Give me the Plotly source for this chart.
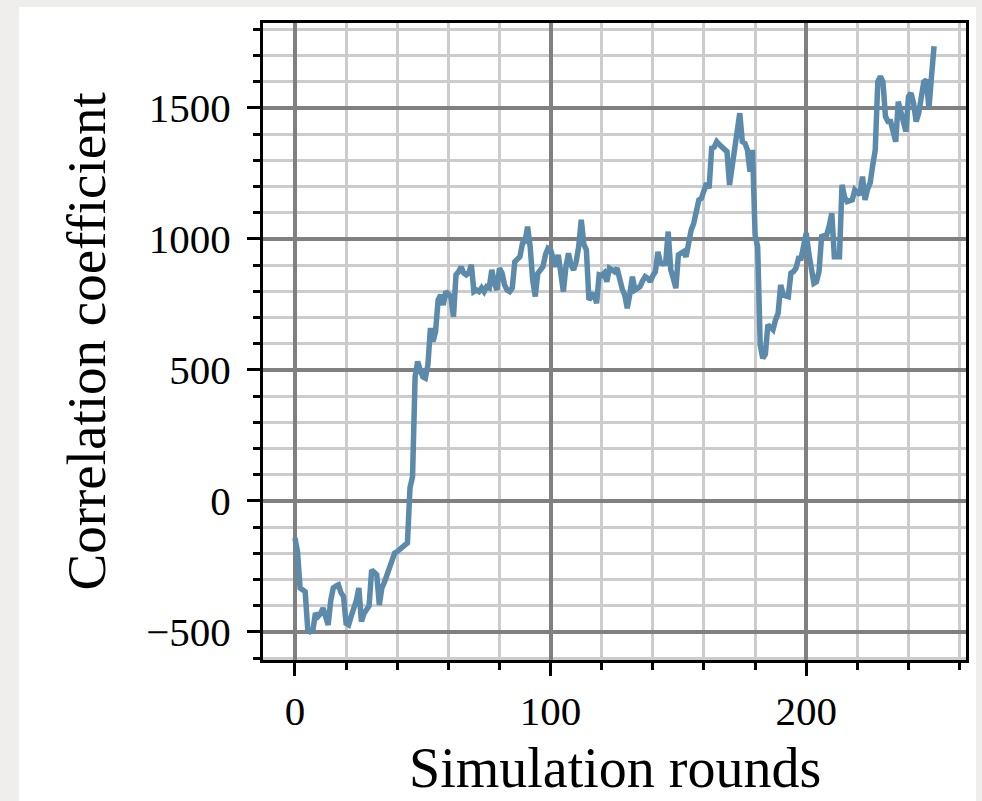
import plotly.graph_objects as go

rounds = list(range(251))
corr = [
    -141, -193, -332, -340, -346, -490, -499, -495, -428, -441,
    -430, -409, -440, -473, -380, -332, -325, -320, -350, -365,
    -467, -473, -440, -416, -380, -332, -460, -430, -409, -400,
    -263, -270, -282, -397, -332, -310, -285, -260, -230, -199,
    -193, -185, -174, -165, -160, 50, 93, 474, 532, 500,
    474, 469, 519, 660, 608, 646, 767, 786, 748, 799,
    786, 780, 703, 863, 875, 894, 870, 863, 870, 901,
    799, 805, 799, 813, 799, 818, 813, 882, 831, 805,
    888, 870, 824, 805, 799, 813, 913, 925, 932, 983,
    990, 1047, 971, 843, 780, 869, 880, 894, 940, 964,
    958, 920, 894, 939, 869, 799, 894, 945, 900, 882,
    913, 971, 1073, 980, 958, 767, 780, 793, 754, 863,
    860, 870, 837, 888, 882, 875, 888, 843, 810, 786,
    735, 790, 856, 805, 812, 818, 840, 856, 850, 837,
    860, 875, 951, 907, 905, 907, 1028, 882, 850, 812,
    939, 945, 951, 932, 1000, 1034, 1060, 1120, 1149, 1155,
    1180, 1213, 1193, 1346, 1350, 1371, 1360, 1352, 1345, 1333,
    1206, 1276, 1330, 1416, 1480, 1371, 1365, 1340, 1257, 1340,
    1015, 971, 595, 545, 560, 672, 660, 653, 691, 716,
    824, 786, 783, 780, 869, 875, 888, 926, 926, 975,
    1022, 945, 880, 831, 837, 875, 1009, 1012, 1015, 1050,
    1098, 932, 932, 932, 1206, 1160, 1142, 1145, 1149, 1187,
    1175, 1168, 1238, 1149, 1190, 1213, 1280, 1340, 1600, 1620,
    1600, 1467, 1448, 1448, 1410, 1371, 1524, 1492, 1450, 1410,
    1543, 1556, 1518, 1448, 1480, 1530, 1600, 1607, 1499, 1620,
    1735,
]
x_title = "Simulation rounds"
y_title = "Correlation coefficient"

FONT = "Liberation Serif, Times New Roman, serif"

fig = go.Figure()
fig.add_trace(go.Scatter(x=rounds, y=corr, mode="lines",
                         line=dict(color="#5b8aab", width=5.5), showlegend=False,
                         hoverinfo="skip"))

axis_common = dict(
    showline=True, linecolor="black", linewidth=3, mirror=True,
    ticks="outside", ticklen=13, tickwidth=3, tickcolor="black",
    showgrid=True, gridcolor="#808080", gridwidth=3.5,
    zeroline=False,
    tickfont=dict(family=FONT, size=41, color="black"),
)

fig.update_xaxes(range=[-12.5, 262.5], tickmode="linear", tick0=0, dtick=100,
                 ticklabelstandoff=0,
                 minor=dict(dtick=20, tick0=0, showgrid=True, gridcolor="#cccccc",
                            gridwidth=2.5, ticks="outside", ticklen=7,
                            tickwidth=2.5, tickcolor="black"),
                 **axis_common)
fig.update_yaxes(range=[-607, 1824], tickmode="linear", tick0=0, dtick=500,
                 ticklabelstandoff=8,
                 minor=dict(dtick=100, tick0=0, showgrid=True, gridcolor="#cccccc",
                            gridwidth=2.5, ticks="outside", ticklen=7,
                            tickwidth=2.5, tickcolor="black"),
                 **axis_common)

L, R, T, B = 263, 16, 23, 141
W, H = 982, 801
pw, ph = W - L - R, H - T - B

def px_x(p):
    return (p - L) / pw

def px_y(p):
    return (H - B - p) / ph

fig.add_shape(type="rect", xref="paper", yref="paper",
              x0=px_x(19), x1=px_x(976), y0=px_y(830), y1=px_y(7),
              fillcolor="white", line=dict(width=0), layer="below")

fig.add_annotation(text=x_title, xref="paper", yref="paper",
                   x=0.5, y=px_y(768), xanchor="center", yanchor="middle",
                   showarrow=False, font=dict(family=FONT, size=56, color="black"))
fig.add_annotation(text=y_title, xref="paper", yref="paper",
                   x=px_x(86), y=0.5, xanchor="center", yanchor="middle",
                   textangle=-90, showarrow=False,
                   font=dict(family=FONT, size=55, color="black"))

fig.update_layout(
    width=W, height=H,
    margin=dict(l=L, r=R, t=T, b=B, autoexpand=False),
    paper_bgcolor="#efeeec", plot_bgcolor="white",
    font=dict(family=FONT, color="black"),
)

fig.write_html("out.html")
